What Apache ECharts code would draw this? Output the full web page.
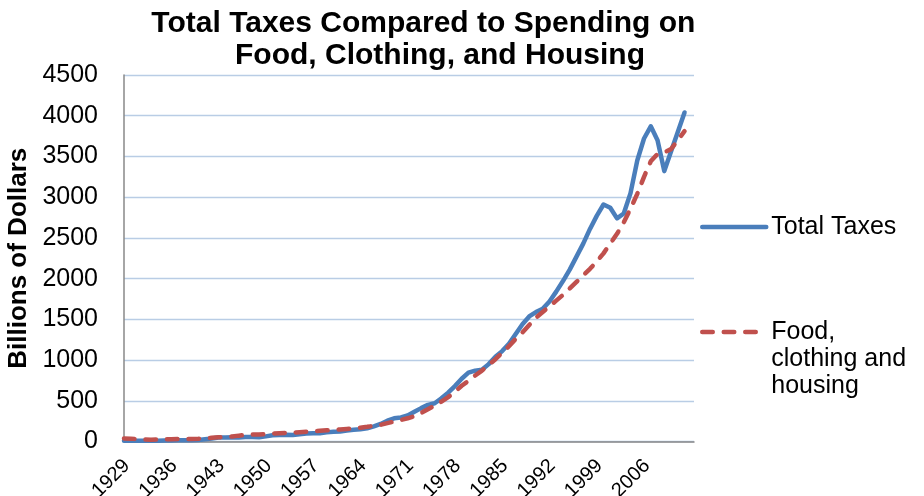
<!DOCTYPE html>
<html>
<head>
<meta charset="utf-8">
<script src="https://cdn.jsdelivr.net/npm/echarts@6/dist/echarts.min.js"></script>
<style>
html,body{margin:0;padding:0;background:#fff;}
#chart{width:924px;height:496px;}
</style>
</head>
<body>
<div id="chart"></div>
<script>
const startYear = 1929;
const yearTickLabels = ['1929','1936','1943','1950','1957','1964','1971','1978','1985','1992','1999','2006'];
const totalTaxes = [
  10,10,8,8,9,10,11,13,15,14,            // 1929-1938
  15,18,27,36,48,50,52,50,55,55,         // 1939-1948
  52,63,76,80,84,80,90,97,102,100,       // 1949-1958
  112,120,124,134,143,150,162,185,215,255, // 1959-1968
  285,295,320,365,410,450,470,530,600,680, // 1969-1978
  770,845,870,880,950,1040,1110,1200,1320,1440, // 1979-1988
  1535,1590,1630,1720,1840,1970,2110,2270,2430,2610, // 1989-1998
  2770,2910,2870,2740,2800,3050,3450,3720,3870,3700, // 1999-2008
  3320,3560,3800,4040                    // 2009-2012
];
const foodClothingHousing = [
  38,35,30,25,23,25,27,29,31,31,
  32,34,39,45,52,57,62,72,80,86,
  86,90,98,102,106,109,114,120,126,131,
  137,142,147,153,160,170,180,192,205,225,
  245,265,285,310,350,395,440,490,545,610,
  685,745,810,870,940,1010,1090,1170,1260,1340,
  1430,1520,1590,1660,1730,1800,1880,1960,2040,2120,
  2210,2310,2430,2550,2690,2860,3040,3250,3440,3530,
  3550,3590,3700,3810
];
const seriesNames = ['Total Taxes', 'Food,\nclothing and\nhousing'];

const toPairs = arr => arr.map((v, i) => [i, v]);
const chart = echarts.init(document.getElementById('chart'), null, {renderer: 'canvas'});
const font = "'Liberation Sans', Arial, sans-serif";
const blue = '#4a7ebb', red = '#c0504d';
chart.setOption({
  animation: false,
  backgroundColor: '#ffffff',
  title: {
    text: 'Total Taxes Compared to Spending on    \nFood, Clothing, and Housing',
    left: 435, top: 3, textAlign: 'center',
    textStyle: {fontFamily: font, fontWeight: 'bold', fontSize: 30, lineHeight: 32, color: '#000'}
  },
  grid: {left: 124, right: 230, top: 75, bottom: 54.5, containLabel: false, outerBoundsMode: 'none'},
  legend: [
    {
      data: [seriesNames[0]], orient: 'vertical', left: 700, top: 213.5, padding: 0,
      itemWidth: 64, itemHeight: 2,
      itemStyle: {opacity: 0},
      lineStyle: {width: 4.5, cap: 'round', color: blue},
      textStyle: {fontFamily: font, fontSize: 25, color: '#000', lineHeight: 27}
    },
    {
      data: [seriesNames[1]], orient: 'vertical', left: 700, top: 264.5, padding: 0,
      itemWidth: 64, itemHeight: 2,
      itemStyle: {opacity: 0},
      lineStyle: {width: 4.5, cap: 'round', color: red, type: [10.5, 11]},
      formatter: name => '\n\n' + name,
      textStyle: {fontFamily: font, fontSize: 25, color: '#000', lineHeight: 27}
    }
  ],
  xAxis: {
    type: 'value', min: 0, max: 84.4, interval: 7,
    axisLine: {show: true, lineStyle: {color: '#888888', width: 1.5}},
    axisTick: {show: false},
    splitLine: {show: false},
    axisLabel: {
      rotate: 45, margin: 24, fontFamily: font, fontSize: 20, color: '#000',
      padding: [0, -4, 0, 0],
      showMaxLabel: false,
      formatter: v => {
        const idx = Math.round(v / 7);
        return (Math.abs(v - idx * 7) < 1e-6 && idx < yearTickLabels.length) ? yearTickLabels[idx] : '';
      }
    }
  },
  yAxis: {
    type: 'value', min: 0, max: 4500, interval: 500,
    name: 'Billions of Dollars', nameLocation: 'middle', nameRotate: 90, nameGap: 89,
    nameTextStyle: {fontFamily: font, fontWeight: 'bold', fontSize: 26, color: '#000'},
    axisLine: {show: true, lineStyle: {color: '#888888', width: 1.5}},
    axisTick: {show: false},
    splitLine: {lineStyle: {color: '#b9cde5', width: 1.3}},
    axisLabel: {margin: 26, fontFamily: font, fontSize: 25, color: '#000', formatter: v => String(v)}
  },
  series: [
    {
      name: seriesNames[0], type: 'line', data: toPairs(totalTaxes),
      symbol: 'none', smooth: false,
      lineStyle: {color: blue, width: 4.5, cap: 'round', join: 'round'},
      itemStyle: {color: blue}
    },
    {
      name: seriesNames[1], type: 'line', data: toPairs(foodClothingHousing),
      symbol: 'none', smooth: false,
      lineStyle: {color: red, width: 4.5, type: [10.5, 11], cap: 'round', join: 'round'},
      itemStyle: {color: red}
    }
  ]
});
</script>
</body>
</html>
